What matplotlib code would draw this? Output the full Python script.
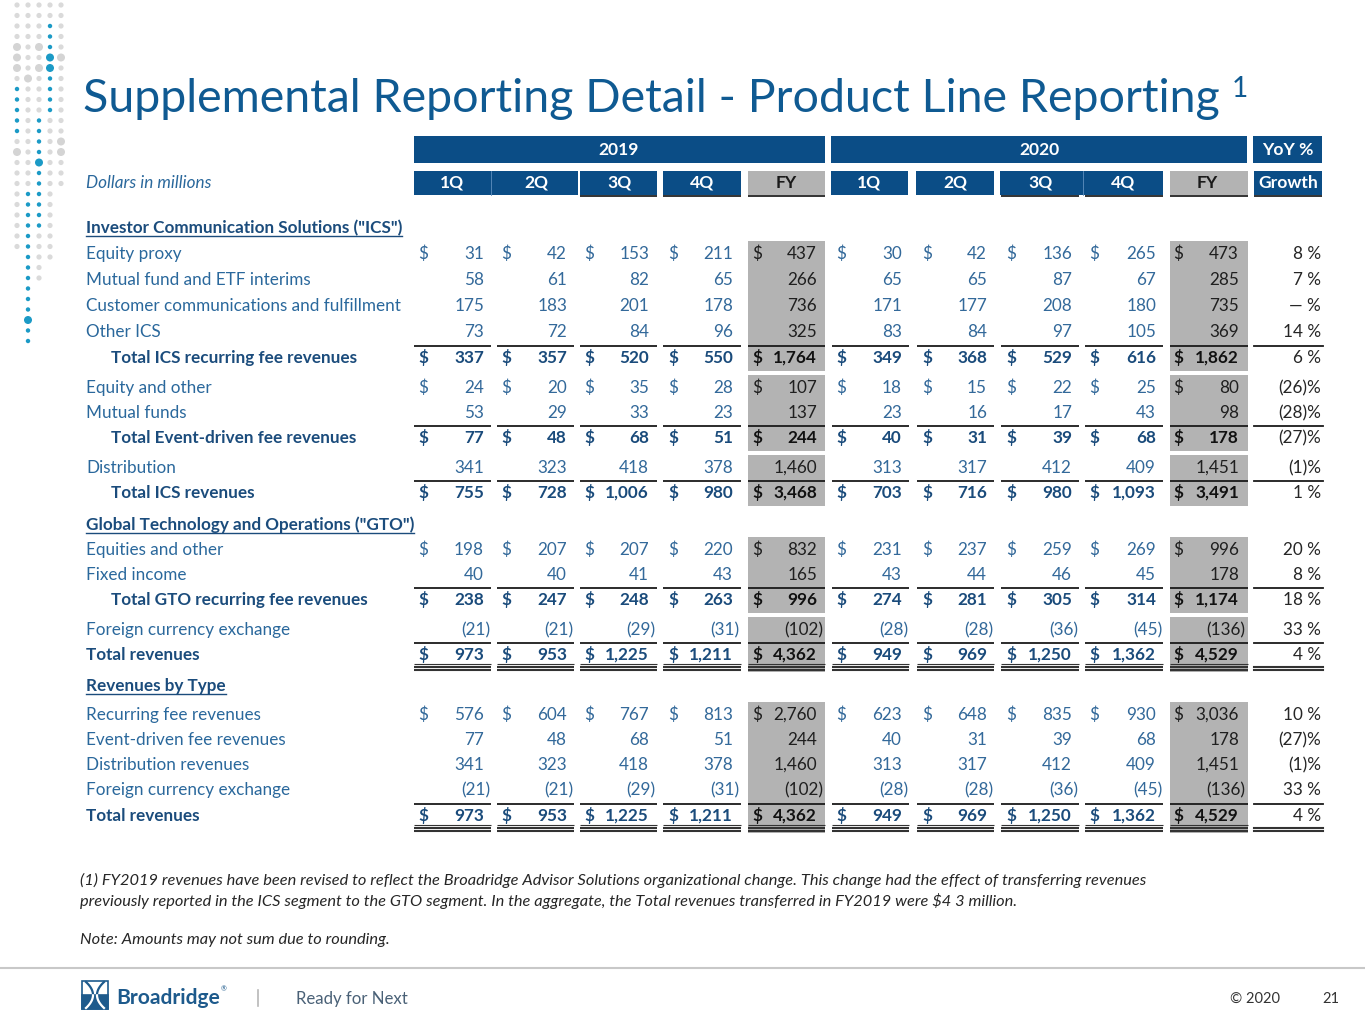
import numpy as np
import matplotlib
matplotlib.use('Agg')
import matplotlib.pyplot as plt
from matplotlib.patches import Rectangle, Circle

plt.rcParams['font.family'] = ['Lato', 'DejaVu Sans']

# ---- table data (dollars in millions) ----
labels = ['Equity proxy', 'Mutual fund and ETF interims', 'Customer communications and fulfillment',
          'Other ICS', 'Total ICS recurring fee revenues', 'Equity and other', 'Mutual funds',
          'Total Event-driven fee revenues', 'Distribution', 'Total ICS revenues',
          'Equities and other', 'Fixed income', 'Total GTO recurring fee revenues',
          'Foreign currency exchange', 'Total revenues', 'Recurring fee revenues',
          'Event-driven fee revenues', 'Distribution revenues', 'Foreign currency exchange',
          'Total revenues']
y19_q1 = [31, 58, 175, 73, 337, 24, 53, 77, 341, 755, 198, 40, 238, -21, 973, 576, 77, 341, -21, 973]
y19_q2 = [42, 61, 183, 72, 357, 20, 29, 48, 323, 728, 207, 40, 247, -21, 953, 604, 48, 323, -21, 953]
y19_q3 = [153, 82, 201, 84, 520, 35, 33, 68, 418, 1006, 207, 41, 248, -29, 1225, 767, 68, 418, -29, 1225]
y19_q4 = [211, 65, 178, 96, 550, 28, 23, 51, 378, 980, 220, 43, 263, -31, 1211, 813, 51, 378, -31, 1211]
y19_fy = [437, 266, 736, 325, 1764, 107, 137, 244, 1460, 3468, 832, 165, 996, -102, 4362, 2760, 244, 1460, -102, 4362]
y20_q1 = [30, 65, 171, 83, 349, 18, 23, 40, 313, 703, 231, 43, 274, -28, 949, 623, 40, 313, -28, 949]
y20_q2 = [42, 65, 177, 84, 368, 15, 16, 31, 317, 716, 237, 44, 281, -28, 969, 648, 31, 317, -28, 969]
y20_q3 = [136, 87, 208, 97, 529, 22, 17, 39, 412, 980, 259, 46, 305, -36, 1250, 835, 39, 412, -36, 1250]
y20_q4 = [265, 67, 180, 105, 616, 25, 43, 68, 409, 1093, 269, 45, 314, -45, 1362, 930, 68, 409, -45, 1362]
y20_fy = [473, 285, 735, 369, 1862, 80, 98, 178, 1451, 3491, 996, 178, 1174, -136, 4529, 3036, 178, 1451, -136, 4529]
yoy = [8, 7, 0, 14, 6, -26, -28, -27, -1, 1, 20, 8, 18, 33, 4, 10, -27, -1, 33, 4]

section_titles = ['Investor Communication Solutions ("ICS")',
                  'Global Technology and Operations ("GTO")', 'Revenues by Type']
dollar_rows = [0, 4, 5, 7, 9, 10, 12, 14, 15, 19]
total_rows = [4, 7, 9, 12, 14, 19]
indent_rows = [4, 7, 9, 12]
grand_rows = [14, 19]
fy_groups = [(0, 4), (5, 7), (8, 9), (10, 12), (13, 14), (15, 19)]

# ---- layout (pixels) ----
row_y = [254, 280, 306, 332, 358, 388, 413, 438, 468, 493, 550, 575, 600, 630, 655,
         715, 740, 765, 790, 816]
section_y = [228, 525, 686]
# (dollar x, number right edge, underline x0, underline x1)
cols = [(418, 484, 414, 491), (501, 567, 497, 574), (584, 649, 580, 657), (668, 733, 663, 741),
        (752, 817, 748, 825),
        (836, 902, 832, 909), (922, 987, 917, 994), (1006, 1072, 1001, 1079), (1089, 1156, 1085, 1163),
        (1173, 1239, 1170, 1248)]
yoy_col = (1321, 1254, 1323)
col_data = [y19_q1, y19_q2, y19_q3, y19_q4, y19_fy, y20_q1, y20_q2, y20_q3, y20_q4, y20_fy]
fy_idx = [4, 9]

NAVY = '#0b4d86'
TITLE = '#0f5a92'
LBL = '#2a689c'
LBL_B = '#1b4c7c'
NUM = '#33699a'
NUM_B = '#1a4b7b'
FYC = '#1f1f1f'
GRAY = '#b3b3b3'

fig = plt.figure(figsize=(13.65, 10.24), dpi=100)
ax = fig.add_axes([0, 0, 1, 1])
ax.set_xlim(0, 1365)
ax.set_ylim(1024, 0)
ax.axis('off')
renderer = fig.canvas.get_renderer()


def width_px(t):
    return t.get_window_extent(renderer).width


def fit(t, target):
    t.set_fontsize(t.get_fontsize() * target / width_px(t))


def fmt(v):
    s = f"{abs(v):,}"
    return f"({s})" if v < 0 else s


def fmt_pct(v):
    if v == 0:
        return '\u2014 %'
    if v < 0:
        return f"({-v})%"
    return f"{v} %"


# ---- left dot decoration ----
dot_cols = [
    "ggggGGGg" + "ttttt" + "gGggggggggg" + "." * 9,
    "gggggggGgggggggggg" + "tttttttttttt" + "T" + "tt",
    "ggggGgGgggg" + "ttttTtttttt" + "ggggg" + "......",
    "gg" + "tttTTtttt" + "ggggggg" + "ggggggg" + "........",
    "gggggGgggggggGGggg" + "." * 15,
]
dot_style = {'g': ('#dadada', 2.6), 'G': ('#d4d4d4', 4.0), 't': ('#1b9ac6', 2.2), 'T': ('#1b9ac6', 4.0)}
for ci, pat in enumerate(dot_cols):
    for ri, ch in enumerate(pat):
        if ch == '.':
            continue
        c, r = dot_style[ch]
        ax.add_patch(Circle((17 + 11 * ci, 5 + 10.5 * ri), r, color=c, lw=0))

# ---- title ----
t = ax.text(83, 112, 'Supplemental Reporting Detail - Product Line Reporting', fontsize=36,
            color=TITLE, va='baseline', ha='left')
fit(t, 1140)
ax.text(83 + width_px(t) + 12, 97, '1', fontsize=t.get_fontsize() * 0.6, color=TITLE,
        va='baseline', ha='left')

# ---- table font size from a reference label ----
probe = ax.text(0, 0, 'Customer communications and fulfillment', fontsize=12)
fs = 12 * 314 / width_px(probe)
probe.remove()

# ---- header boxes ----
def box(x0, x1, y0, y1, fc):
    ax.add_patch(Rectangle((x0, y0), x1 - x0, y1 - y0, facecolor=fc, edgecolor='none'))

hfs = fs * 1.02
box(414, 825, 136, 163, NAVY)
box(831, 1247, 136, 163, NAVY)
box(1253, 1322, 136, 163, NAVY)
ax.text(619, 150, '2019', color='white', fontsize=hfs, fontweight='bold', ha='center', va='center')
ax.text(1039, 150, '2020', color='white', fontsize=hfs, fontweight='bold', ha='center', va='center')
ax.text(1288, 150, 'YoY %', color='white', fontsize=hfs, fontweight='bold', ha='center', va='center')

sub_boxes = [(414, 578, NAVY), (580, 657, NAVY), (663, 741, NAVY), (748, 825, GRAY),
             (831, 908, NAVY), (916, 994, NAVY), (1000, 1163, NAVY), (1170, 1248, GRAY),
             (1254, 1322, NAVY)]
for x0, x1, c in sub_boxes:
    box(x0, x1, 171, 195, c)
ax.plot([491, 491], [171, 195], color='#5f8fbf', lw=0.6)
ax.plot([1083, 1083], [171, 195], color='#5f8fbf', lw=0.6)
sub_text = [(452, '1Q'), (536, '2Q'), (619, '3Q'), (702, '4Q'), (786, 'FY'),
            (869, '1Q'), (955, '2Q'), (1040, '3Q'), (1123, '4Q'), (1207, 'FY'), (1288, 'Growth')]
for x, s in sub_text:
    c = '#1a1a1a' if s == 'FY' else 'white'
    ax.text(x, 183, s, color=c, fontsize=hfs, fontweight='bold', ha='center', va='center')
for x0, x1 in [(580, 657), (663, 741), (748, 825), (1001, 1079), (1085, 1163), (1170, 1248), (1254, 1322)]:
    ax.plot([x0, x1], [195.5, 195.5], color='#222222', lw=1.3, solid_capstyle='butt')

ax.text(86, 188, 'Dollars in millions', color=LBL, fontsize=fs, style='italic', va='baseline')

# ---- FY shading ----
for a, b in fy_groups:
    top = row_y[a] - 13
    bot = row_y[b] + (17 if b in grand_rows else 13)
    for k in fy_idx:
        box(cols[k][2], cols[k][3], top, bot, GRAY)

# ---- section headers ----
for s, y in zip(section_titles, section_y):
    st = ax.text(86, y + 5, s, color=LBL_B, fontsize=fs, fontweight='bold', va='baseline')
    w = width_px(st)
    ax.plot([86, 86 + w], [y + 8, y + 8], color=LBL_B, lw=1.0)

# ---- rows ----
for i, lab in enumerate(labels):
    y = row_y[i]
    bold = i in total_rows
    x = 111 if i in indent_rows else 86
    ax.text(x, y + 5, lab, color=LBL_B if bold else LBL, fontsize=fs,
            fontweight='bold' if bold else 'normal', va='baseline')
    for k, (dx, rx, lx0, lx1) in enumerate(cols):
        v = col_data[k][i]
        if k in fy_idx:
            c = '#111111' if bold else FYC
        else:
            c = NUM_B if bold else NUM
        fw = 'bold' if bold else 'normal'
        if i in dollar_rows:
            ax.text(dx, y + 5, '$', color=c, fontsize=fs, fontweight=fw, va='baseline', ha='left')
        ax.text(rx + (6 if v < 0 else 0), y + 5, fmt(v), color=c, fontsize=fs, fontweight=fw,
                va='baseline', ha='right')
        if bold:
            ax.plot([lx0, lx1], [y - 12.5, y - 12.5], color='#1a1a1a', lw=1.3, solid_capstyle='butt')
        if i in grand_rows:
            ax.plot([lx0, lx1], [y + 8.5, y + 8.5], color='#333333', lw=0.8, solid_capstyle='butt')
            ax.plot([lx0, lx1], [y + 12, y + 12], color='#333333', lw=1.5, solid_capstyle='butt')
            ax.plot([lx0, lx1], [y + 15, y + 15], color='#333333', lw=1.5, solid_capstyle='butt')
    ax.text(yoy_col[0], y + 5, fmt_pct(yoy[i]), color='#262626', fontsize=fs, va='baseline', ha='right')
    if bold:
        ax.plot([yoy_col[1], yoy_col[2]], [y - 12.5, y - 12.5], color='#1a1a1a', lw=1.3)
    if i in grand_rows:
        ax.plot([yoy_col[1], yoy_col[2]], [y + 12, y + 12], color='#333333', lw=1.5)
        ax.plot([yoy_col[1], yoy_col[2]], [y + 15, y + 15], color='#333333', lw=1.5)

# ---- footnotes ----
n1 = ax.text(80, 885, '(1) FY2019 revenues have been revised to reflect the Broadridge Advisor Solutions '
             'organizational change. This change had the effect of transferring revenues',
             color='#262626', fontsize=11, style='italic', va='baseline')
fit(n1, 1062)
nfs = n1.get_fontsize()
ax.text(80, 906, 'previously reported in the ICS segment to the GTO segment. In the aggregate, the Total '
        'revenues transferred in FY2019 were $4 3 million.', color='#262626', fontsize=nfs,
        style='italic', va='baseline')
ax.text(80, 944, 'Note: Amounts may not sum due to rounding.', color='#262626', fontsize=nfs,
        style='italic', va='baseline')

# ---- footer ----
ax.plot([0, 1365], [968, 968], color='#c8c8c8', lw=1.5)
LOGO = '#1d5a8c'
ax.add_patch(Rectangle((82, 981), 26, 28, facecolor='white', edgecolor=LOGO, lw=1.2))
ax.add_patch(Rectangle((82, 995), 26, 14, facecolor=LOGO, edgecolor=LOGO, lw=1.2))
yy = np.linspace(982, 1008, 40)
ul = ((yy - 995) / 13) ** 2
for xs in [93 - 7 * ul, 97 + 7 * ul]:
    top = yy <= 995
    ax.plot(xs[top], yy[top], color=LOGO, lw=1.6)
    ax.plot(xs[~top], yy[~top], color='white', lw=1.6)
b = ax.text(116, 1004, 'Broadridge', color=LOGO, fontsize=18, fontweight='bold', va='baseline')
fit(b, 104)
ax.text(221, 991, '\u00ae', color=LOGO, fontsize=5, va='baseline')
ax.plot([258, 258], [990, 1006], color='#b8b8b8', lw=1.2)
r = ax.text(296, 1004, 'Ready for Next', color='#4a6177', fontsize=15, fontweight='normal',
            va='baseline')
fit(r, 112)
ax.text(1230, 1003, '\u00a9 2020', color='#333333', fontsize=10.5, va='baseline')
ax.text(1322, 1003, '21', color='#333333', fontsize=10.5, va='baseline')

fig.savefig('out.png', dpi=100)
